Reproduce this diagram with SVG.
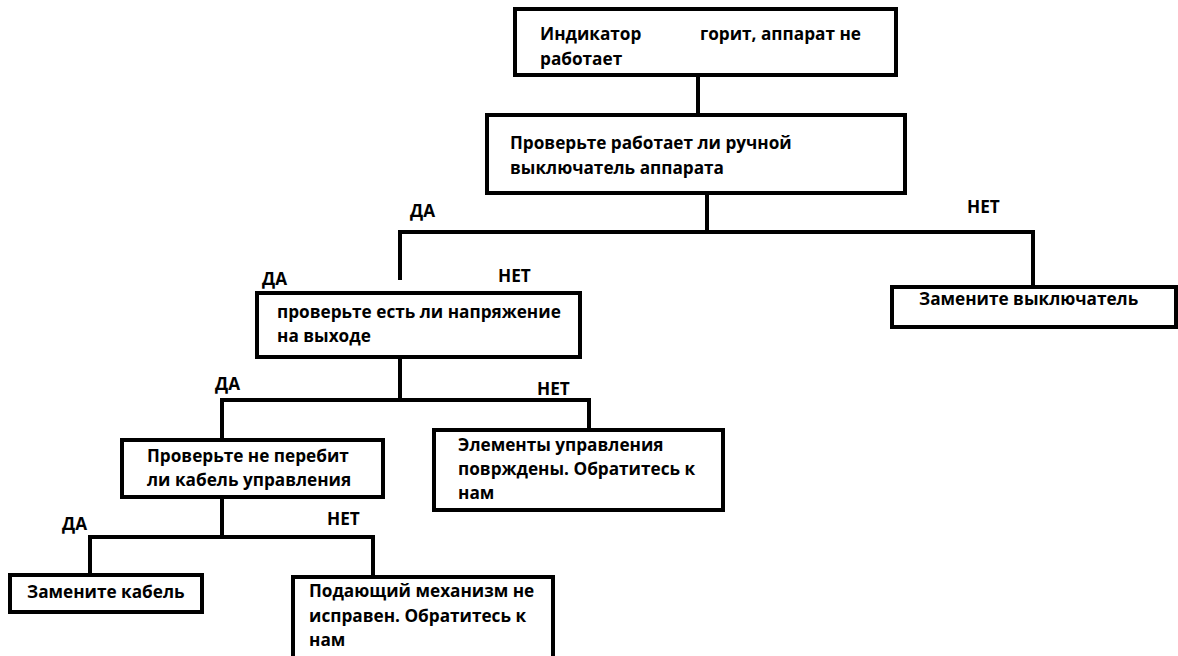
<svg xmlns="http://www.w3.org/2000/svg" width="1178" height="656" viewBox="0 0 1178 656">
<style>
.box{fill:#fff;stroke:#000;stroke-width:4}
.ln{fill:none;stroke:#000;stroke-width:4}
text{font-family:"Open Sans","Noto Sans",sans-serif;font-weight:bold;font-size:17.2px;fill:#000}
</style>
<rect width="1178" height="656" fill="#fff"/>
<g id="connectors">
<path class="ln" d="M698 75V115"/>
<path class="ln" d="M707 193V234"/>
<path class="ln" d="M400 280V232H1033V287"/>
<path class="ln" d="M400 357V400"/>
<path class="ln" d="M222 438V400H589V430"/>
<path class="ln" d="M222 497V537"/>
<path class="ln" d="M90 578V537H373V577"/>
</g>
<g id="labels">
<text x="410" y="217">ДА</text>
<text x="967" y="213">НЕТ</text>
<text x="262" y="285">ДА</text>
<text x="498" y="282">НЕТ</text>
<text x="215" y="390">ДА</text>
<text x="537" y="395">НЕТ</text>
<text x="62" y="530">ДА</text>
<text x="327" y="525">НЕТ</text>
</g>
<g id="n1">
<rect class="box" x="515" y="9" width="381" height="66"/>
<text x="540" y="40">Индикатор</text>
<text x="700" y="40">горит, аппарат не</text>
<text x="540" y="65">работает</text>
</g>
<g id="n2">
<rect class="box" x="487" y="115" width="418" height="78"/>
<text x="510" y="149">Проверьте работает ли ручной</text>
<text x="510" y="174">выключатель аппарата</text>
</g>
<g id="n3">
<rect class="box" x="892" y="287" width="284" height="40"/>
<text x="919" y="305">Замените выключатель</text>
</g>
<g id="n4">
<rect class="box" x="257" y="293" width="323" height="64"/>
<text x="277" y="318">проверьте есть ли напряжение</text>
<text x="277" y="342">на выходе</text>
</g>
<g id="n5">
<rect class="box" x="122" y="440" width="261" height="57"/>
<text x="147" y="462">Проверьте не перебит</text>
<text x="147" y="486">ли кабель управления</text>
</g>
<g id="n6">
<rect class="box" x="434" y="430" width="289" height="80"/>
<text x="458" y="451">Элементы управления</text>
<text x="458" y="475">поврждены. Обратитесь к</text>
<text x="458" y="499">нам</text>
</g>
<g id="n7">
<rect class="box" x="10" y="575" width="192" height="37"/>
<text x="27" y="598">Замените кабель</text>
</g>
<g id="n8">
<rect class="box" x="293" y="577" width="260" height="90"/>
<text x="309" y="597">Подающий механизм не</text>
<text x="309" y="622">исправен. Обратитесь к</text>
<text x="309" y="646">нам</text>
</g>
</svg>
